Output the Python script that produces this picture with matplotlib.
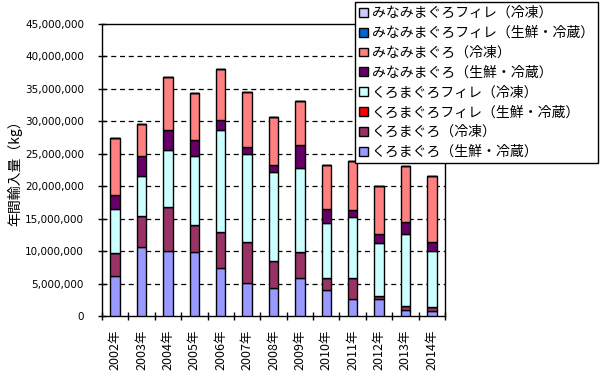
import matplotlib
matplotlib.use("Agg")
import matplotlib.pyplot as plt
from matplotlib.ticker import FuncFormatter, MultipleLocator
import numpy as np

plt.rcParams['font.family'] = ['Noto Sans CJK JP', 'DejaVu Sans']

years = ["2002年", "2003年", "2004年", "2005年", "2006年", "2007年", "2008年",
         "2009年", "2010年", "2011年", "2012年", "2013年", "2014年"]

series_names = [
    "くろまぐろ（生鮮・冷蔵）",
    "くろまぐろ（冷凍）",
    "くろまぐろフィレ（生鮮・冷蔵）",
    "くろまぐろフィレ（冷凍）",
    "みなみまぐろ（生鮮・冷蔵）",
    "みなみまぐろ（冷凍）",
    "みなみまぐろフィレ（生鮮・冷蔵）",
    "みなみまぐろフィレ（冷凍）",
]

kuro_fresh = [6170000, 10650000, 10030000, 9880000, 7410000, 5140000, 4300000,
              5810000, 4060000, 2670000, 2550000, 1000000, 820000]
kuro_frozen = [3550000, 4780000, 6740000, 4160000, 5490000, 6260000, 4220000,
               4070000, 1750000, 3140000, 600000, 600000, 550000]
kuro_fillet_fresh = [0, 0, 0, 0, 0, 0, 0, 0, 0, 0, 0, 0, 0]
kuro_fillet_frozen = [6780000, 6070000, 8830000, 10660000, 15700000, 13600000, 13600000,
                      13000000, 8540000, 9500000, 8050000, 11100000, 8700000]
minami_fresh = [2170000, 3100000, 3100000, 2500000, 1600000, 1100000, 1200000,
                3400000, 2150000, 1100000, 1450000, 1750000, 1400000]
minami_frozen = [8730000, 5000000, 8200000, 7200000, 7900000, 8400000, 7400000,
                 6900000, 6700000, 7500000, 7350000, 8650000, 10100000]
minami_fillet_fresh = [0, 0, 0, 0, 0, 0, 0, 0, 0, 0, 0, 0, 0]
minami_fillet_frozen = [0, 0, 0, 0, 0, 0, 0, 0, 0, 0, 0, 0, 0]

series_values = [kuro_fresh, kuro_frozen, kuro_fillet_fresh, kuro_fillet_frozen,
                 minami_fresh, minami_frozen, minami_fillet_fresh, minami_fillet_frozen]
colors = ["#9999FF", "#993366", "#FF0000", "#CCFFFF",
          "#660066", "#FF8080", "#0066CC", "#CCCCFF"]

fig = plt.figure(figsize=(6.1, 3.85), dpi=100)
ax = fig.add_axes([102/610, 1-316/385, (445-102)/610, (316-24)/385])

x = np.arange(len(years))
bottom = np.zeros(len(years))
handles = []
for name, vals, c in zip(series_names, series_values, colors):
    v = np.array(vals, dtype=float)
    h = ax.bar(x, v, bottom=bottom, width=0.36, color=c, edgecolor="black",
               linewidth=1.0, label=name, zorder=3)
    handles.append(h)
    bottom += v

ax.set_xlim(-0.5, len(years) - 0.5)
ax.set_ylim(0, 45000000)
ax.yaxis.set_major_locator(MultipleLocator(5000000))
ax.yaxis.set_major_formatter(FuncFormatter(lambda v, p: f"{int(v):,}"))
for yv in np.arange(5000000, 45000000, 5000000):
    ax.axhline(yv, color="black", linewidth=0.9, linestyle=(0, (4, 3)), zorder=1)

ax.set_xticks(x)
ax.set_xticklabels(years, rotation=90, fontsize=9)
ax.set_xticks(np.arange(-0.5, len(years), 1.0), minor=True)
ax.tick_params(axis="x", which="major", length=0, pad=10)
ax.tick_params(axis="x", which="minor", length=6, direction="inout", width=1)
ax.tick_params(axis="y", length=6, direction="inout", width=1, labelsize=7.5, pad=10)
for lbl in ax.get_yticklabels():
    lbl.set_family("DejaVu Sans")

for s in ax.spines.values():
    s.set_color("black")
    s.set_linewidth(1.0)

ax.set_ylabel("年間輸入量（kg）", fontsize=10, labelpad=2)

leg = fig.legend(handles[::-1], series_names[::-1], loc="upper right",
                 bbox_to_anchor=(598/610, 1-2/385), fontsize=10,
                 frameon=True, fancybox=False, edgecolor="black", framealpha=1,
                 handlelength=0.6, handleheight=0.6, handletextpad=0.3,
                 labelspacing=0.42, borderpad=0.3, borderaxespad=0)
leg.get_frame().set_linewidth(1.0)

fig.savefig("out.png", dpi=100)
